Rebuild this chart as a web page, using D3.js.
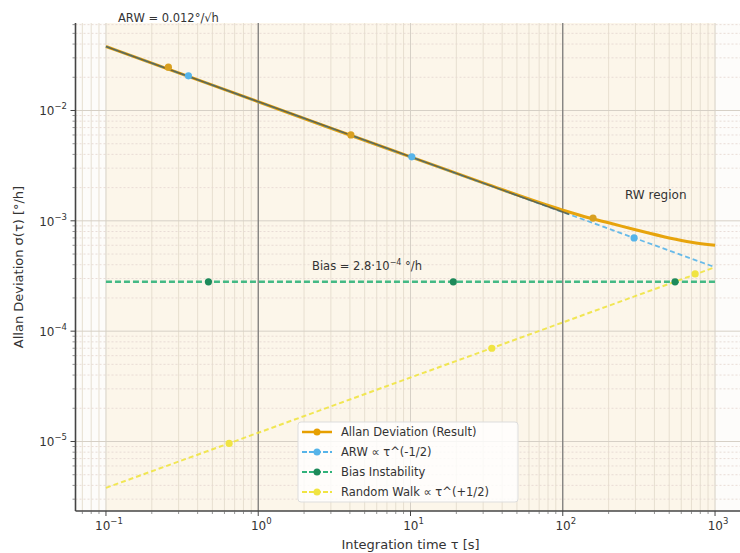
<!DOCTYPE html>
<html>
<head>
<meta charset="utf-8">
<script src="https://cdn.jsdelivr.net/npm/d3@7"></script>
<style>
  body { margin: 0; background: #fff; }
  svg text { font-family: "DejaVu Sans", sans-serif; fill: #333; }
</style>
</head>
<body>
<svg id="chart" width="740" height="553"></svg>
<script>
// ---- data ----
const adevTau = [0.1, 0.3, 1, 3, 10, 30, 100, 150, 200, 300, 500, 700, 1000];
const adevVal = [0.038, 0.0219, 0.012, 0.0069, 0.0038, 0.00221, 0.00125, 0.00106, 0.00096, 0.00083, 0.00070, 0.00064, 0.00060];
const adevMarkTau = [0.257, 4.06, 158];
const adevMarkVal = [0.0247, 0.0060, 0.00106];

const arwTau = [0.1, 1, 10, 100, 1000];
const arwVal = [0.038, 0.012, 0.0038, 0.0012, 0.00038];
const arwMarkTau = [0.348, 10.2, 294];
const arwMarkVal = [0.0206, 0.0038, 0.0007];

const fitTau = [0.1, 110];
const fitVal = [0.038, 0.00115];

const biasTau = [0.1, 1000];
const biasVal = [0.00028, 0.00028];
const biasMarkTau = [0.471, 19.1, 546];
const biasMarkVal = [0.00028, 0.00028, 0.00028];

const rwTau = [0.1, 1, 10, 100, 1000];
const rwVal = [0.0000038, 0.000012, 0.000038, 0.00012, 0.00038];
const rwMarkTau = [0.644, 34.2, 740];
const rwMarkVal = [0.0000096, 0.00007, 0.00033];

const xTicks = [-1, 0, 1, 2, 3];
const yTicks = [-5, -4, -3, -2];
const darkVLines = [1, 100];

const legendLabels = ["Allan Deviation (Result)", "ARW \u221D \u03C4^(-1/2)", "Bias Instability", "Random Walk \u221D \u03C4^(+1/2)"];

// ---- layout ----
const L = 75.5, R = 745.5, T = 23, B = 511;
const svg = d3.select("#chart");
const x = d3.scaleLog().domain([Math.pow(10, -1.2), Math.pow(10, 3.2)]).range([L, R]);
const y = d3.scaleLog().domain([Math.pow(10, -5.63), Math.pow(10, -1.207)]).range([B, T]);

svg.append("clipPath").attr("id", "clip").append("rect")
  .attr("x", L).attr("y", T).attr("width", R - L).attr("height", B - T);

// background
svg.append("rect").attr("x", L).attr("y", T).attr("width", R - L).attr("height", B - T).attr("fill", "#fdfcfa");
svg.append("rect").attr("x", x(0.1)).attr("y", T).attr("width", x(1000) - x(0.1)).attr("height", B - T)
  .attr("fill", "#fcf6ea");

// grid
const g = svg.append("g").attr("clip-path", "url(#clip)");
const minorX = [], minorY = [];
for (let e = -2; e <= 3; e++) for (let k = 2; k <= 9; k++) minorX.push(k * Math.pow(10, e));
for (let e = -6; e <= -1; e++) for (let k = 2; k <= 9; k++) minorY.push(k * Math.pow(10, e));
g.selectAll(".mgx").data(minorX).enter().append("line")
  .attr("x1", d => x(d)).attr("x2", d => x(d)).attr("y1", T).attr("y2", B)
  .attr("stroke", "#e4dccd").attr("stroke-width", 0.9);
g.selectAll(".mgy").data(minorY).enter().append("line")
  .attr("x1", L).attr("x2", R).attr("y1", d => y(d)).attr("y2", d => y(d))
  .attr("stroke", "#e6d9d2").attr("stroke-width", 0.9).attr("stroke-dasharray", "2,2");
g.selectAll(".Mgx").data(xTicks.map(e => Math.pow(10, e))).enter().append("line")
  .attr("x1", d => x(d)).attr("x2", d => x(d)).attr("y1", T).attr("y2", B)
  .attr("stroke", "#d6d0c6").attr("stroke-width", 1);
g.selectAll(".Mgy").data(yTicks.map(e => Math.pow(10, e))).enter().append("line")
  .attr("x1", L).attr("x2", R).attr("y1", d => y(d)).attr("y2", d => y(d))
  .attr("stroke", "#d6d0c6").attr("stroke-width", 1);
g.selectAll(".dv").data(darkVLines).enter().append("line")
  .attr("x1", d => x(d)).attr("x2", d => x(d)).attr("y1", T).attr("y2", B)
  .attr("stroke", "#6e6e6e").attr("stroke-width", 1.1);

// series
const line = d3.line().x(d => x(d[0])).y(d => y(d[1]));
const smooth = d3.line().x(d => x(d[0])).y(d => y(d[1])).curve(d3.curveMonotoneX);
const zip = (a, b) => a.map((v, i) => [v, b[i]]);
const series = [
  { tau: adevTau, val: adevVal, mt: adevMarkTau, mv: adevMarkVal, color: "#e69f00", w: 3, dash: null },
  { tau: arwTau, val: arwVal, mt: arwMarkTau, mv: arwMarkVal, color: "#56b4e9", w: 1.8, dash: "5,3" },
  { tau: biasTau, val: biasVal, mt: biasMarkTau, mv: biasMarkVal, color: "#30b27a", w: 2.5, dash: "6,3" },
  { tau: rwTau, val: rwVal, mt: rwMarkTau, mv: rwMarkVal, color: "#f0e442", w: 2, dash: "5,3" }
];
series.forEach((s, i) => {
  g.append("path").datum(zip(s.tau, s.val)).attr("d", i === 0 ? smooth : line)
    .attr("fill", "none").attr("stroke", s.color).attr("stroke-width", s.w)
    .attr("stroke-dasharray", s.dash).attr("opacity", i === 0 ? 0.95 : 0.9);
  if (i === 1) {
    g.append("path").datum(zip(fitTau, fitVal)).attr("d", line)
      .attr("fill", "none").attr("stroke", "#5f5a3c").attr("stroke-width", 1.6).attr("opacity", 0.85);
  }
});
series.forEach((s, i) => {
  g.selectAll(".m" + i).data(zip(s.mt, s.mv)).enter().append("circle")
    .attr("cx", d => x(d[0])).attr("cy", d => y(d[1])).attr("r", 3.6)
    .attr("fill", i === 2 ? "#1d8a5a" : (i === 0 ? "#d9a020" : s.color));
});

// axes spines
svg.append("line").attr("x1", L).attr("x2", L).attr("y1", T).attr("y2", B).attr("stroke", "#444").attr("stroke-width", 1.6);
svg.append("line").attr("x1", L).attr("x2", R).attr("y1", B).attr("y2", B).attr("stroke", "#444").attr("stroke-width", 1.6);

// ticks
svg.selectAll(".xt").data(xTicks).enter().append("line")
  .attr("x1", d => x(Math.pow(10, d))).attr("x2", d => x(Math.pow(10, d))).attr("y1", B).attr("y2", B + 5)
  .attr("stroke", "#444");
svg.selectAll(".xmt").data(minorX.filter(d => d > x.domain()[0] && d < x.domain()[1])).enter().append("line")
  .attr("x1", d => x(d)).attr("x2", d => x(d)).attr("y1", B).attr("y2", B + 3)
  .attr("stroke", "#666").attr("stroke-width", 0.7);
svg.selectAll(".yt").data(yTicks).enter().append("line")
  .attr("x1", L - 5).attr("x2", L).attr("y1", d => y(Math.pow(10, d))).attr("y2", d => y(Math.pow(10, d)))
  .attr("stroke", "#444");
svg.selectAll(".ymt").data(minorY.filter(d => d > y.domain()[0] && d < y.domain()[1])).enter().append("line")
  .attr("x1", L - 3).attr("x2", L).attr("y1", d => y(d)).attr("y2", d => y(d))
  .attr("stroke", "#666").attr("stroke-width", 0.7);

function powLabel(sel, e) {
  sel.append("tspan").text("10");
  sel.append("tspan").attr("dy", -6).attr("font-size", 8.5).text(e < 0 ? "\u2212" + (-e) : String(e));
}
xTicks.forEach(e => {
  const t = svg.append("text").attr("x", x(Math.pow(10, e)) + 3).attr("y", 530)
    .attr("text-anchor", "middle").attr("font-size", 12);
  powLabel(t, e);
});
yTicks.forEach(e => {
  const t = svg.append("text").attr("x", 67).attr("y", y(Math.pow(10, e)) + 5)
    .attr("text-anchor", "end").attr("font-size", 12);
  powLabel(t, e);
});

// axis labels
svg.append("text").attr("x", (L + R) / 2).attr("y", 549).attr("text-anchor", "middle")
  .attr("font-size", 13).text("Integration time \u03C4 [s]");
svg.append("text").attr("transform", `translate(23,${(T + B) / 2}) rotate(-90)`).attr("text-anchor", "middle")
  .attr("font-size", 13).text("Allan Deviation \u03C3(\u03C4) [\u00B0/h]");

// annotations
svg.append("text").attr("x", 118).attr("y", 22).attr("font-size", 11.5).text("ARW = 0.012\u00B0/\u221Ah");
svg.append("text").attr("x", 625).attr("y", 199).attr("font-size", 12).text("RW region");
const bt = svg.append("text").attr("x", 312).attr("y", 270).attr("font-size", 11.5);
bt.append("tspan").text("Bias = 2.8\u00B710");
bt.append("tspan").attr("dy", -5).attr("font-size", 8).text("\u22124");
bt.append("tspan").attr("dy", 5).text(" \u00B0/h");

// legend
const lg = svg.append("g");
lg.append("rect").attr("x", 298).attr("y", 422).attr("width", 220).attr("height", 80).attr("rx", 3)
  .attr("fill", "#ffffff").attr("fill-opacity", 0.8).attr("stroke", "#ddd");
series.forEach((s, i) => {
  const yy = 432 + i * 20;
  lg.append("line").attr("x1", 302).attr("x2", 332).attr("y1", yy).attr("y2", yy)
    .attr("stroke", s.color).attr("stroke-width", s.w > 2.5 ? 2.5 : 2).attr("stroke-dasharray", s.dash ? "5,2" : null);
  lg.append("circle").attr("cx", 317).attr("cy", yy).attr("r", 3.5)
    .attr("fill", i === 2 ? "#1d8a5a" : s.color);
  lg.append("text").attr("x", 341).attr("y", yy + 4).attr("font-size", 11.5).text(legendLabels[i]);
});
</script>
</body>
</html>
